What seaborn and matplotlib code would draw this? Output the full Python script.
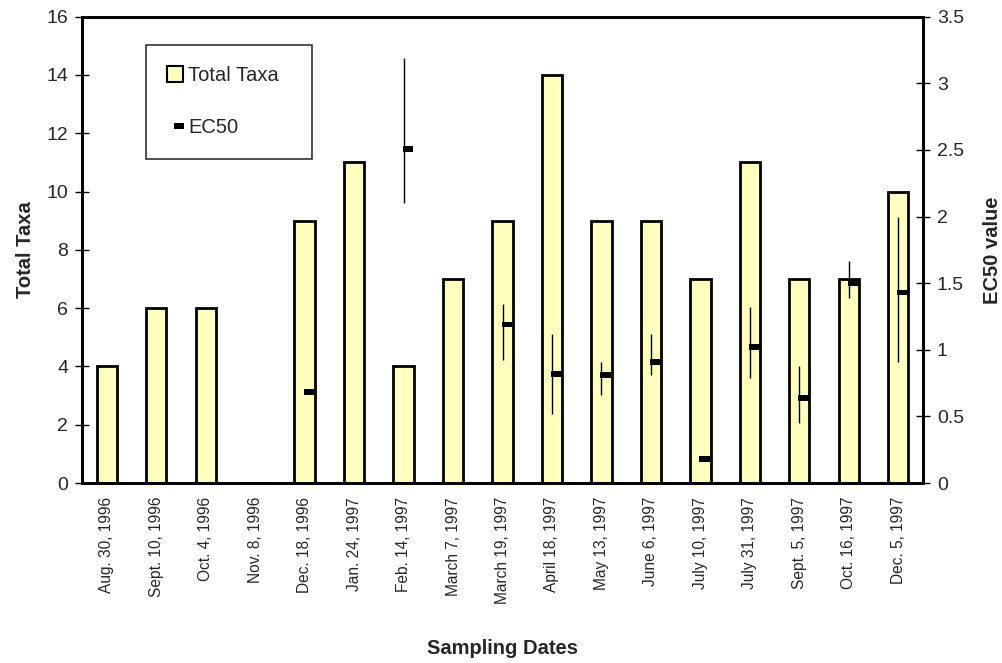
import numpy as np
import pandas as pd
import matplotlib
matplotlib.use("Agg")
import matplotlib.pyplot as plt
from matplotlib.patches import Patch
from matplotlib.lines import Line2D
from matplotlib.path import Path
import seaborn as sns

# Sampling dates and benthic taxa counts
dates = ["Aug. 30, 1996", "Sept. 10, 1996", "Oct. 4, 1996", "Nov. 8, 1996",
         "Dec. 18, 1996", "Jan. 24, 1997", "Feb. 14, 1997", "March 7, 1997",
         "March 19, 1997", "April 18, 1997", "May 13, 1997", "June 6, 1997",
         "July 10, 1997", "July 31, 1997", "Sept. 5, 1997", "Oct. 16, 1997",
         "Dec. 5, 1997"]
total_taxa = [4, 6, 6, 0, 9, 11, 4, 7, 9, 14, 9, 9, 7, 11, 7, 7, 10]

# EC50 estimates with lower / upper confidence limits (NaN = not tested)
nan = np.nan
ec50      = [nan, nan, nan, nan, 0.68, nan, 2.51, nan, 1.19, 0.82, 0.81, 0.91, 0.18, 1.02, 0.64, 1.50, 1.43]
ec50_low  = [nan, nan, nan, nan, nan,  nan, 2.10, nan, 0.92, 0.52, 0.66, 0.81, nan,  0.79, 0.45, 1.39, 0.91]
ec50_high = [nan, nan, nan, nan, nan,  nan, 3.19, nan, 1.34, 1.12, 0.91, 1.12, nan,  1.32, 0.88, 1.67, 2.00]

df = pd.DataFrame({"date": dates, "taxa": total_taxa,
                   "ec50": ec50, "low": ec50_low, "high": ec50_high})
df["pos"] = np.arange(len(df))

sns.set_theme(style="white")
plt.rcParams["font.family"] = ["Liberation Sans", "DejaVu Sans"]

BAR_FILL = "#FFFFC0"
AX_H = 483 - 16.7

fig = plt.figure(figsize=(10.02, 6.63), dpi=100)
ax = fig.add_axes([82 / 1002, 1 - 483 / 663, (923 - 82) / 1002, AX_H / 663])

sns.barplot(data=df, x="date", y="taxa", ax=ax, color=BAR_FILL, saturation=1,
            width=0.41, edgecolor="black", linewidth=2.0, zorder=2)
for p in ax.patches:
    p.set_facecolor(BAR_FILL)

ax.set_ylim(0, 16)
ax.set_yticks(np.arange(0, 17, 2))
ax.set_xlim(-0.5, len(dates) - 0.5)
ax.set_xlabel("Sampling Dates", fontsize=14.5, fontweight="bold", va="center")
ax.xaxis.set_label_coords(0.5, -(648 - 483) / AX_H)
ax.set_ylabel("Total Taxa", fontsize=14.5, fontweight="bold", labelpad=8)

# date labels at bar centres, tick marks between categories
ax.set_xticks(df["pos"])
ax.set_xticklabels(dates, rotation=90, fontsize=11.2)
ax.set_xticks(np.arange(-0.5, len(dates), 1), minor=True)
ax.tick_params(axis="x", which="major", length=0, pad=10)
ax.tick_params(axis="x", which="minor", length=10, width=1, direction="inout", color="black")
ax.tick_params(axis="y", which="major", length=10, width=1, direction="inout",
               color="black", labelsize=14, pad=5)

for s in ax.spines.values():
    s.set_color("black")
    s.set_linewidth(2.0)

# EC50 on the secondary axis
ax2 = ax.twinx()
ax2.set_ylim(0, 3.5)
ax2.set_yticks(np.arange(0, 3.51, 0.5))
ax2.set_yticklabels(["0", "0.5", "1", "1.5", "2", "2.5", "3", "3.5"])
ax2.tick_params(axis="y", which="major", length=10, width=1, direction="inout",
                color="black", labelsize=14, pad=5)
ax2.set_ylabel("EC50 value", fontsize=14.5, fontweight="bold", labelpad=14)
for s in ax2.spines.values():
    s.set_color("black")
    s.set_linewidth(2.0)

ci = df.dropna(subset=["low"])
ax2.errorbar(ci["pos"], ci["ec50"],
             yerr=[ci["ec50"] - ci["low"], ci["high"] - ci["ec50"]],
             fmt="none", ecolor="black", elinewidth=1, capsize=0, zorder=3)

# short dash marker that starts at the error line and runs to the right
dash = Path([(-0.1, -0.3), (1.0, -0.3), (1.0, 0.3), (-0.1, 0.3), (-0.1, -0.3)],
            [Path.MOVETO, Path.LINETO, Path.LINETO, Path.LINETO, Path.CLOSEPOLY])
pts = df.dropna(subset=["ec50"])
sns.scatterplot(x=pts["pos"], y=pts["ec50"], ax=ax2, marker=dash, s=14 ** 2,
                color="black", edgecolor="none", linewidth=0, zorder=4, legend=False)
ax2.set_xlim(-0.5, len(dates) - 0.5)

handles = [Patch(facecolor=BAR_FILL, edgecolor="black", linewidth=1.5, label="Total Taxa"),
           Line2D([], [], linestyle="none", marker=dash, markersize=13, color="black",
                  markeredgewidth=0, label="EC50")]
leg = ax.legend(handles=handles, loc="upper left", mode="expand",
                bbox_to_anchor=(146 / 1002, 1 - 158 / 663, 166 / 1002, 113 / 663),
                bbox_transform=fig.transFigure,
                borderaxespad=0, frameon=True, fancybox=False, fontsize=14.5,
                handlelength=0.8, handleheight=0.8, handletextpad=0.25,
                borderpad=1.05, labelspacing=1.65)
leg.get_frame().set_edgecolor("black")
leg.get_frame().set_linewidth(1.2)
leg.set_zorder(10)

fig.savefig("out.png", dpi=100, facecolor="white")
